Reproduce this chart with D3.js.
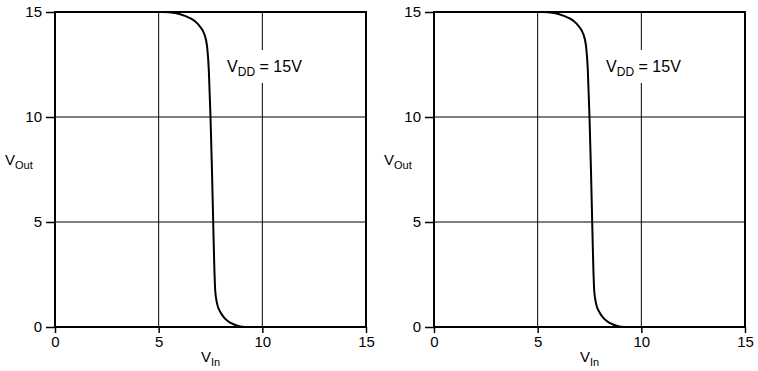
<!DOCTYPE html>
<html lang="en">
<head>
    <meta charset="UTF-8">
    <title>CMOS transfer characteristic</title>
    <script src="https://d3js.org/d3.v7.min.js"></script>
    <style>
        body { margin: 0; background: #fff; }
        text { font-family: "Liberation Sans", Arial, sans-serif; fill: #000; }
    </style>
</head>
<body>
    <svg width="758" height="371"></svg>
    <script>
        // transfer curve (V_in, V_out), VDD = 15V
        const vin  = [0, 5.2, 5.8, 6.3, 6.7, 7.0, 7.2, 7.33, 7.42, 7.5, 7.57, 7.63, 7.68, 7.73, 7.82, 7.98, 8.2, 8.5, 8.8, 9.2, 10, 15];
        const vout = [15, 15, 14.95, 14.8, 14.6, 14.3, 13.95, 13.4, 12.2, 10, 7.5, 5, 3, 1.7, 1.1, 0.7, 0.4, 0.18, 0.06, 0, 0, 0];
        const xTicks = [0, 5, 10, 15];
        const yTicks = [0, 5, 10, 15];
        const panels = [55, 434];   // left edge of each plot

        const dims = {width: 311, height: 315, top: 12};
        const svg = d3.select('svg');
        const pts = vin.map((v, i) => [v, vout[i]]);

        panels.forEach(left => {
            const x = d3.scaleLinear().domain([0, 15]).range([0, dims.width]);
            const y = d3.scaleLinear().domain([0, 15]).range([dims.height, 0]);

            const g = svg.append('g')
                .attr('transform', `translate(${left}, ${dims.top})`);

            // grid
            g.selectAll('.gx').data(xTicks.slice(1, -1)).enter().append('line')
                .attr('x1', d => x(d)).attr('x2', d => x(d))
                .attr('y1', 0).attr('y2', dims.height)
                .attr('stroke', '#000').attr('stroke-width', 1);
            g.selectAll('.gy').data(yTicks.slice(1, -1)).enter().append('line')
                .attr('y1', d => y(d)).attr('y2', d => y(d))
                .attr('x1', 0).attr('x2', dims.width)
                .attr('stroke', '#000').attr('stroke-width', 1);

            // axes
            const xAxis = g.append('g')
                .attr('transform', `translate(0, ${dims.height})`)
                .call(d3.axisBottom(x).tickValues(xTicks).tickSize(6).tickPadding(3));
            const yAxis = g.append('g')
                .call(d3.axisLeft(y).tickValues(yTicks).tickSize(9).tickPadding(4));
            [xAxis, yAxis].forEach(a => {
                a.select('.domain').remove();
                a.selectAll('line').attr('stroke', '#000').attr('stroke-width', 1.5);
                a.selectAll('text').style('font-size', '15px').attr('font-family', null);
            });

            // frame
            g.append('rect')
                .attr('width', dims.width).attr('height', dims.height)
                .attr('fill', 'none').attr('stroke', '#000').attr('stroke-width', 2);

            // label with white backing that breaks the grid line
            g.append('rect')
                .attr('x', x(10) - 4).attr('y', 38).attr('width', 8).attr('height', 33)
                .attr('fill', '#fff');
            const lab = g.append('text')
                .attr('x', x(8.3)).attr('y', 60)
                .style('font-size', '16px');
            lab.append('tspan').text('V');
            lab.append('tspan').attr('dy', 4).style('font-size', '12px').text('DD');
            lab.append('tspan').attr('dy', -4).text(' = 15V');

            // curve
            const line = d3.line()
                .x(d => x(d[0]))
                .y(d => y(d[1]))
                .curve(d3.curveMonotoneX);
            g.append('path')
                .datum(pts)
                .attr('d', line)
                .attr('fill', 'none')
                .attr('stroke', '#000')
                .attr('stroke-width', 2);

            // axis titles
            const xt = g.append('text')
                .attr('x', x(7.5)).attr('y', dims.height + 35)
                .attr('text-anchor', 'middle')
                .style('font-size', '15px');
            xt.append('tspan').text('V');
            xt.append('tspan').attr('dy', 4).style('font-size', '11px').text('In');

            const yt = g.append('text')
                .attr('x', -50).attr('y', 153)
                .style('font-size', '15px');
            yt.append('tspan').text('V');
            yt.append('tspan').attr('dy', 4).style('font-size', '11px').text('Out');
        });
    </script>
</body>
</html>
